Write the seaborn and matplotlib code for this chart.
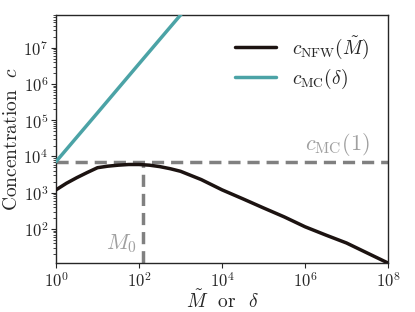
import numpy as np
import pandas as pd
import matplotlib
matplotlib.use("Agg")
import matplotlib.pyplot as plt
import seaborn as sns

# values (log-log axes)
log_m = [0.0, 0.25, 0.5, 0.75, 1.0, 1.25, 1.5, 1.75, 2.0, 2.25, 2.5, 2.75, 3.0,
         3.5, 4.0, 4.5, 5.0, 5.5, 6.0, 6.5, 7.0, 7.5, 8.0]
c_nfw = [1.2e3, 1.82e3, 2.6e3, 3.6e3, 4.9e3, 5.4e3, 5.75e3, 6.0e3, 6.0e3, 5.75e3,
         5.25e3, 4.6e3, 3.9e3, 2.3e3, 1.2e3, 680, 380, 215, 115, 68, 41, 21.7, 11.5]

log_delta = [0.0, 0.5, 1.0, 1.5, 2.0, 2.5, 3.0, 3.5]
c_mc = [7.2e3, 3.4e4, 1.6e5, 7.6e5, 3.6e6, 1.7e7, 8.0e7, 3.8e8]

c_mc_1 = 7.2e3
M0 = 125
c_at_M0 = 6.0e3

sns.set_style("ticks")
plt.rcParams['font.family'] = ['cmr10', 'DejaVu Serif']
plt.rcParams['mathtext.fontset'] = 'cm'
plt.rcParams['axes.formatter.use_mathtext'] = True
plt.rcParams['axes.unicode_minus'] = False

df_nfw = pd.DataFrame({'x': [10 ** v for v in log_m], 'c': c_nfw})
df_mc = pd.DataFrame({'x': [10 ** v for v in log_delta], 'c': c_mc})

fig = plt.figure(figsize=(4.15, 3.12), dpi=100)
ax = fig.add_axes([0.135, 0.157, 0.8, 0.795])

grey = '#808080'
ax.axhline(c_mc_1, color=grey, lw=2.5, ls=(0, (3.5, 2)), zorder=1)
ax.vlines(M0, 1, c_at_M0, color=grey, lw=2.5, linestyles=[(0, (3.5, 2))], zorder=1)

sns.lineplot(data=df_nfw, x='x', y='c', ax=ax, color='#1c1311', lw=2.5,
             label=r'$c_{\rm NFW}(\tilde{M})$', zorder=3)
sns.lineplot(data=df_mc, x='x', y='c', ax=ax, color='#4ba3a6', lw=2.5,
             label=r'$c_{\rm MC}(\delta)$', zorder=3)

ax.set_xscale('log')
ax.set_yscale('log')
ax.set_xlim(1, 1e8)
ax.set_ylim(11.5, 8e7)
ax.set_xticks([1, 1e2, 1e4, 1e6, 1e8])

ax.text(6e6, c_mc_1 * 1.3, r'$c_{\rm MC}(1)$', color='#a0a0a0', fontsize=16,
        ha='center', va='bottom')
ax.text(M0 * 0.7, 19, r'$M_0$', color='#a0a0a0', fontsize=16, ha='right', va='bottom')

ax.set_xlabel(r'$\tilde{M}$  or  $\delta$', fontsize=14, labelpad=0)
ax.set_ylabel(r'Concentration  $c$', fontsize=14, labelpad=2)
ax.tick_params(labelsize=12, pad=2)
for s in ax.spines.values():
    s.set_linewidth(1.0)

ax.legend(loc='upper right', frameon=False, fontsize=14, handlelength=2.1,
          borderaxespad=0.6, labelspacing=0.3)

fig.savefig('out.png', dpi=100)
